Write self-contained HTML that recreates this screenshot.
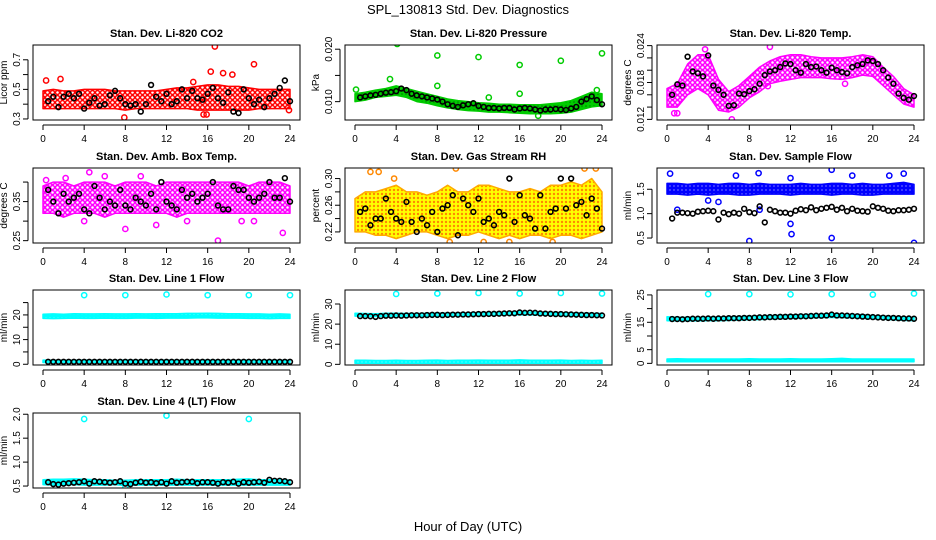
<!DOCTYPE html>
<html><head><meta charset="utf-8"><style>
html,body{margin:0;padding:0;background:#fff;}
svg{display:block;font-family:"Liberation Sans",Arial,sans-serif;}
</style></head><body>
<svg id="c" width="936" height="540" viewBox="0 0 936 540">
<defs>
<pattern id="p-red" width="5" height="5" patternUnits="userSpaceOnUse"><rect width="5" height="5" fill="#fff"/><circle cx="2.5" cy="2.5" r="2" fill="none" stroke="#f00" stroke-width="1.4"/></pattern>
<pattern id="p-green" width="4" height="4" patternUnits="userSpaceOnUse"><rect width="4" height="4" fill="#0c0"/><circle cx="2" cy="2" r="0.8" fill="#070"/></pattern>
<pattern id="p-mag" width="5" height="5" patternUnits="userSpaceOnUse"><rect width="5" height="5" fill="#fff"/><circle cx="2.5" cy="2.5" r="2" fill="none" stroke="#f0f" stroke-width="1.5"/></pattern>
<pattern id="p-rh" width="4" height="4" patternUnits="userSpaceOnUse"><rect width="4" height="4" fill="#ff0"/><circle cx="2" cy="2" r="1.2" fill="#f80"/></pattern>
<pattern id="p-blue" width="4" height="4" patternUnits="userSpaceOnUse"><rect width="4" height="4" fill="#00f"/><circle cx="2" cy="2" r="0.9" fill="#66f"/></pattern>
<pattern id="p-cyan" width="4" height="4" patternUnits="userSpaceOnUse"><rect width="4" height="4" fill="#0ff"/><circle cx="2" cy="2" r="0.8" fill="#6ff"/></pattern>
</defs>
<text x="468" y="14" text-anchor="middle" font-size="13">SPL_130813  Std. Dev. Diagnostics</text>
<text x="468" y="531" text-anchor="middle" font-size="13">Hour of Day (UTC)</text>
</svg>
<script>
const HRS=[0,1,2,3,4,5,6,7,8,9,10,11,12,13,14,15,16,17,18,19,20,21,22,23,24];
const XS=[0.5,1,1.5,2,2.5,3,3.5,4,4.5,5,5.5,6,6.5,7,7.5,8,8.5,9,9.5,10,10.5,11,11.5,12,12.5,13,13.5,14,14.5,15,15.5,16,16.5,17,17.5,18,18.5,19,19.5,20,20.5,21,21.5,22,22.5,23,23.5,24];
const XTICKS=[0,4,8,12,16,20,24];

// CO2
const co2Lo=[0.37,0.37,0.37,0.37,0.37,0.37,0.37,0.37,0.36,0.37,0.37,0.37,0.37,0.37,0.37,0.36,0.36,0.36,0.36,0.36,0.36,0.37,0.37,0.37,0.37];
const co2Hi=[0.49,0.50,0.49,0.49,0.50,0.50,0.50,0.49,0.49,0.49,0.49,0.49,0.50,0.51,0.51,0.52,0.53,0.53,0.52,0.52,0.51,0.50,0.50,0.50,0.50];
const co2Black=[0.42,0.45,0.38,0.45,0.47,0.44,0.47,0.37,0.41,0.44,0.39,0.40,0.46,0.49,0.44,0.40,0.39,0.40,0.35,0.40,0.53,0.45,0.42,0.47,0.40,0.42,0.50,0.44,0.49,0.44,0.43,0.47,0.51,0.44,0.41,0.48,0.35,0.34,0.50,0.44,0.40,0.43,0.38,0.44,0.47,0.51,0.56,0.42];
const co2OutX=[0.3,1.7,16.7,20.5,16.3,17.5,7.9,15.6,15.9,18.4,14.6,23.9];
const co2OutY=[0.56,0.57,0.79,0.67,0.62,0.61,0.31,0.33,0.33,0.60,0.55,0.36];
// Pressure
const prLo=[0.0100,0.0103,0.0108,0.0110,0.0112,0.0108,0.0100,0.0097,0.0092,0.0088,0.0085,0.0083,0.0082,0.0080,0.0080,0.0079,0.0078,0.0077,0.0077,0.0077,0.0078,0.0080,0.0085,0.0090,0.0092];
const prHi=[0.0115,0.0118,0.0122,0.0125,0.0130,0.0125,0.0120,0.0115,0.0110,0.0105,0.0102,0.0100,0.0098,0.0097,0.0095,0.0095,0.0094,0.0094,0.0094,0.0096,0.0098,0.0102,0.0110,0.0118,0.0115];
const prBlack=[0.0108,0.0110,0.0112,0.0113,0.0115,0.0117,0.0118,0.0120,0.0125,0.0122,0.0115,0.0112,0.0110,0.0108,0.0106,0.0104,0.0100,0.0095,0.0092,0.0090,0.0093,0.0095,0.0097,0.0092,0.0090,0.0088,0.0088,0.0087,0.0088,0.0088,0.0085,0.0087,0.0088,0.0087,0.0085,0.0083,0.0085,0.0085,0.0086,0.0085,0.0084,0.0087,0.0090,0.0100,0.0105,0.0110,0.0103,0.0095];
const prOutX=[0.1,3.4,4.1,8.0,8.0,12.0,13.0,16.0,16.0,20.0,24.0,23.5,17.8];
const prOutY=[0.0123,0.0143,0.0210,0.0188,0.0130,0.0185,0.0108,0.0170,0.0115,0.0178,0.0192,0.0122,0.0073];
// Li-820 Temp
const ltLo=[0.0140,0.0140,0.0160,0.0170,0.0160,0.0135,0.0132,0.0140,0.0155,0.0165,0.0178,0.0182,0.0185,0.0188,0.0188,0.0188,0.0186,0.0185,0.0188,0.0192,0.0190,0.0175,0.0160,0.0145,0.0140];
const ltHi=[0.0170,0.0178,0.0210,0.0225,0.0225,0.0185,0.0165,0.0175,0.0190,0.0205,0.0215,0.0222,0.0225,0.0225,0.0222,0.0220,0.0220,0.0220,0.0222,0.0225,0.0222,0.0205,0.0190,0.0170,0.0160];
const ltBlack=[0.0160,0.0177,0.0175,0.0222,0.0198,0.0195,0.0190,0.0224,0.0175,0.0168,0.0160,0.0142,0.0143,0.0162,0.0161,0.0166,0.0169,0.0178,0.0192,0.0198,0.0200,0.0205,0.0211,0.0210,0.0200,0.0196,0.0210,0.0205,0.0206,0.0200,0.0196,0.0204,0.0200,0.0197,0.0195,0.0205,0.0208,0.0210,0.0216,0.0215,0.0210,0.0200,0.0188,0.0178,0.0162,0.0155,0.0152,0.0158];
const ltOutX=[0.7,1.0,6.3,9.8,10.0,3.7,17.3];
const ltOutY=[0.0130,0.0130,0.0120,0.0174,0.0238,0.0234,0.0178];
// Amb box temp
const abLo=[0.32,0.32,0.31,0.32,0.32,0.32,0.31,0.32,0.32,0.32,0.32,0.32,0.32,0.31,0.32,0.32,0.32,0.32,0.32,0.32,0.32,0.32,0.32,0.32,0.32];
const abHi=[0.39,0.40,0.40,0.39,0.40,0.40,0.40,0.39,0.40,0.40,0.40,0.39,0.40,0.40,0.40,0.40,0.40,0.40,0.40,0.40,0.39,0.40,0.40,0.40,0.39];
const abBlack=[0.38,0.35,0.32,0.37,0.35,0.36,0.37,0.33,0.32,0.39,0.36,0.33,0.35,0.34,0.38,0.34,0.33,0.36,0.35,0.34,0.37,0.33,0.40,0.35,0.34,0.33,0.38,0.36,0.37,0.35,0.36,0.37,0.40,0.34,0.33,0.33,0.39,0.38,0.38,0.36,0.35,0.36,0.37,0.40,0.36,0.36,0.41,0.35];
const abOutX=[4.5,17.0,8.0,23.3,2.2,9.5,0.3,14.0,19.3,4.0,6.0,11.0,20.5];
const abOutY=[0.425,0.25,0.28,0.27,0.41,0.415,0.405,0.30,0.30,0.30,0.415,0.29,0.30];
// Gas stream RH
const rhLo=[0.22,0.22,0.215,0.215,0.21,0.215,0.22,0.22,0.215,0.21,0.215,0.215,0.22,0.215,0.21,0.215,0.21,0.215,0.215,0.21,0.215,0.215,0.21,0.215,0.22];
const rhHi=[0.27,0.28,0.28,0.285,0.29,0.28,0.28,0.275,0.28,0.29,0.28,0.28,0.29,0.29,0.285,0.28,0.28,0.285,0.28,0.29,0.29,0.295,0.29,0.30,0.28];
const rhBlack=[0.25,0.255,0.23,0.24,0.24,0.27,0.25,0.24,0.235,0.265,0.235,0.22,0.24,0.23,0.25,0.22,0.255,0.26,0.275,0.215,0.27,0.26,0.25,0.27,0.235,0.24,0.23,0.25,0.245,0.30,0.235,0.275,0.245,0.24,0.225,0.275,0.225,0.25,0.255,0.30,0.255,0.30,0.26,0.265,0.245,0.27,0.255,0.225];
const rhOutX=[1.5,3.8,9.8,12.5,19.2,22.3,23.4,9.2,2.3,15.0];
const rhOutY=[0.31,0.30,0.315,0.205,0.205,0.315,0.315,0.205,0.31,0.205];
// Sample flow
const sfLo=[1.40,1.40,1.38,1.40,1.38,1.40,1.40,1.38,1.38,1.40,1.40,1.40,1.38,1.40,1.40,1.40,1.38,1.40,1.40,1.38,1.38,1.40,1.40,1.40,1.40];
const sfHi=[1.62,1.62,1.60,1.62,1.62,1.60,1.62,1.62,1.60,1.62,1.60,1.60,1.60,1.62,1.60,1.60,1.62,1.62,1.60,1.62,1.60,1.60,1.62,1.64,1.60];
const sfBlack=[0.90,1.02,1.02,1.01,1.00,1.04,1.05,1.06,1.05,0.88,1.02,0.99,1.02,1.00,1.10,1.03,1.01,1.15,0.82,1.08,1.05,1.02,1.02,1.00,1.06,1.09,1.07,1.13,1.07,1.10,1.12,1.14,1.08,1.12,1.05,1.10,1.06,1.05,1.04,1.15,1.12,1.10,1.06,1.05,1.07,1.07,1.08,1.10];
const sfOutX=[0.3,6.7,8.9,12.0,16.0,18.0,21.6,23.0,8.0,12.0,12.1,16.0,24.0,1.0,9.0,4.0,5.0];
const sfOutY=[1.82,1.78,1.83,1.73,1.90,1.78,1.78,1.82,0.44,0.79,0.58,0.50,0.40,1.08,1.08,1.27,1.24];
// Line 1
const l1HiLo=[18.6,18.5,18.6,18.7,18.6,18.6,18.7,18.6,18.6,18.7,18.7,18.6,18.7,18.7,18.7,18.8,18.8,18.7,18.7,18.7,18.6,18.6,18.5,18.6,18.6];
const l1HiHi=[20.3,20.4,20.3,20.5,20.4,20.4,20.5,20.4,20.4,20.5,20.4,20.5,20.5,20.5,20.6,20.6,20.7,20.6,20.5,20.5,20.4,20.4,20.3,20.4,20.3];
const l1LowLo=[0.7,0.7,0.7,0.7,0.7,0.7,0.7,0.7,0.7,0.7,0.7,0.7,0.7,0.7,0.7,0.7,0.7,0.7,0.7,0.7,0.7,0.7,0.7,0.7,0.7];
const l1LowHi=[1.7,1.6,1.6,1.6,1.7,1.6,1.6,1.6,1.7,1.6,1.6,1.6,1.7,1.6,1.6,1.6,1.7,1.6,1.6,1.6,1.7,1.6,1.6,1.6,1.6];
const l1Black=[1.0,1.0,1.0,1.0,1.0,1.0,1.0,1.0,1.0,1.0,1.0,1.0,1.0,1.0,1.0,1.0,1.0,1.0,1.0,1.0,1.0,1.0,1.0,1.0,1.0,1.0,1.0,1.0,1.0,1.0,1.0,1.0,1.0,1.0,1.0,1.0,1.0,1.0,1.0,1.0,1.0,1.0,1.0,1.0,1.0,1.0,1.0,1.0];
const l1OutX=[4,8,12,16,20,24];
const l1OutY=[28.0,28.0,28.3,28.0,28.0,28.0];
// Line 2
const l2HiLo=[24.0,23.8,23.8,23.9,24.0,24.0,24.0,24.0,24.1,24.1,24.2,24.2,24.3,24.4,24.5,24.6,24.7,24.6,24.5,24.4,24.3,24.2,24.1,24.0,24.0];
const l2HiHi=[25.4,25.3,25.2,25.4,25.4,25.3,25.3,25.4,25.5,25.5,25.5,25.6,25.7,25.8,25.9,26.0,26.2,26.0,25.9,25.8,25.7,25.6,25.5,25.4,25.3];
const l2LowLo=[0.5,0.5,0.5,0.5,0.5,0.5,0.5,0.5,0.5,0.5,0.5,0.5,0.5,0.5,0.5,0.5,0.5,0.5,0.5,0.5,0.5,0.5,0.5,0.5,0.5];
const l2LowHi=[2.0,2.0,1.9,1.9,2.0,1.9,1.9,2.0,2.1,1.9,2.0,2.0,2.1,2.0,2.0,2.0,2.2,2.0,2.0,2.0,2.1,1.9,2.0,1.9,2.0];
const l2Black=[24.0,24.0,23.9,23.6,24.0,24.2,24.2,24.3,24.2,24.3,24.4,24.4,24.4,24.5,24.6,24.6,24.5,24.6,24.7,24.7,24.8,24.8,24.9,25.0,25.0,25.1,25.1,25.2,25.3,25.4,25.4,25.8,25.6,25.7,25.6,25.3,25.2,25.1,25.0,25.0,24.9,24.8,24.7,24.6,24.5,24.5,24.4,24.3];
const l2OutX=[4,8,12,16,20,24];
const l2OutY=[35.0,35.2,35.5,35.2,35.5,35.2];
// Line 3
const l3HiLo=[15.6,15.5,15.5,15.5,15.6,15.6,15.7,15.8,15.9,16.0,16.2,16.3,16.4,16.5,16.6,16.7,16.8,16.7,16.6,16.5,16.3,16.1,15.9,15.7,15.6];
const l3HiHi=[17.0,16.8,16.8,16.8,16.9,16.9,17.0,17.1,17.2,17.3,17.5,17.6,17.7,17.8,17.9,18.0,18.2,18.0,17.9,17.8,17.5,17.3,17.1,16.9,16.8];
const l3LowLo=[0.6,0.6,0.6,0.6,0.6,0.6,0.6,0.6,0.6,0.6,0.6,0.6,0.6,0.6,0.6,0.6,0.6,0.6,0.6,0.6,0.6,0.6,0.6,0.6,0.6];
const l3LowHi=[1.6,1.7,1.6,1.6,1.6,1.6,1.6,1.6,1.7,1.6,1.6,1.6,1.7,1.6,1.6,1.6,1.7,1.8,1.6,1.6,1.6,1.6,1.6,1.6,1.6];
const l3Black=[16.2,16.2,16.1,16.2,16.3,16.3,16.3,16.4,16.3,16.4,16.4,16.5,16.5,16.5,16.6,16.6,16.7,16.8,16.8,16.9,16.9,17.0,17.0,17.1,17.1,17.2,17.2,17.3,17.4,17.4,17.5,17.8,17.5,17.5,17.4,17.3,17.2,17.1,17.0,16.9,16.8,16.7,16.6,16.6,16.5,16.4,16.4,16.3];
const l3OutX=[4,8,12,16,20,24];
const l3OutY=[25.3,25.3,25.2,25.3,25.1,25.5];
// Line 4
const l4Lo=[0.53,0.52,0.52,0.53,0.52,0.52,0.52,0.53,0.51,0.52,0.52,0.52,0.52,0.52,0.52,0.52,0.52,0.52,0.52,0.52,0.52,0.52,0.52,0.52,0.52];
const l4Hi=[0.63,0.64,0.64,0.65,0.64,0.63,0.63,0.62,0.62,0.63,0.63,0.63,0.63,0.64,0.63,0.63,0.63,0.63,0.63,0.64,0.65,0.63,0.63,0.64,0.62];
const l4Black=[0.58,0.54,0.53,0.55,0.56,0.57,0.58,0.60,0.55,0.60,0.59,0.58,0.57,0.58,0.60,0.55,0.54,0.57,0.59,0.57,0.58,0.56,0.58,0.55,0.60,0.57,0.58,0.59,0.59,0.56,0.58,0.58,0.57,0.55,0.58,0.57,0.59,0.55,0.58,0.57,0.58,0.59,0.57,0.63,0.61,0.61,0.60,0.58];
const l4OutX=[4,12,20,8];
const l4OutY=[1.90,1.97,1.90,0.47];

const svg=document.getElementById('c');
const NS='http://www.w3.org/2000/svg';
function mk(tag,attrs,parent,txt){const e=document.createElementNS(NS,tag);for(const k in attrs)e.setAttribute(k,attrs[k]);if(txt!==undefined)e.textContent=txt;(parent||svg).appendChild(e);return e;}
const COLS=[33,345,657], ROWS=[45,168,290,413], W=267, H=75;

function panel(o){
  const L=COLS[o.col], T=ROWS[o.row], B=T+H;
  const g=mk('g',{});
  
  
  const xs=h=>L+10+h*(W-20)/24;
  const ys=v=>B-(v-o.v0)/(o.v1-o.v0)*H;
  const clip='clip-'+o.name;
  const cp=mk('clipPath',{id:clip},g); mk('rect',{x:L,y:T,width:W,height:H},cp);
  const plot=mk('g',{'clip-path':'url(#'+clip+')'},g);
  (o.bands||[]).forEach((b,i)=>{
    let d='';
    HRS.forEach((h,j)=>{d+=(j?'L':'M')+xs(h).toFixed(1)+','+ys(b.hi[j]).toFixed(1);});
    for(let j=HRS.length-1;j>=0;j--) d+='L'+xs(HRS[j]).toFixed(1)+','+ys(b.lo[j]).toFixed(1);
    d+='Z';
    const p=mk('path',{d:d,fill:'url(#'+b.pat+')',stroke:b.col,'stroke-width':1.5,'stroke-linejoin':'round'},plot);
    
    
  });
  (o.outX||[]).forEach((x,i)=>{
    const c=mk('circle',{cx:xs(x),cy:ys(o.outY[i]),r:2.6,fill:'none',stroke:o.mc,'stroke-width':1.5},plot);
    
    
  });
  if(o.black) o.black.forEach((v,i)=>{
    const c=mk('circle',{cx:xs(XS[i]),cy:ys(v),r:2.4,fill:'none',stroke:'#000','stroke-width':1.6},plot);
    
    
  });
  const box=mk('rect',{x:L,y:T,width:W,height:H,fill:'none',stroke:'#000','stroke-width':1},g);
  
  
  const t=mk('text',{x:L+W/2,y:T-8,'text-anchor':'middle','font-size':11,'font-weight':'bold'},g,o.title);
  
  
  const xa=mk('g',{},g);
  
  
  mk('line',{x1:xs(0),x2:xs(24),y1:B+5,y2:B+5,stroke:'#000'},xa);
  XTICKS.forEach(h=>{mk('line',{x1:xs(h),x2:xs(h),y1:B+5,y2:B+10,stroke:'#000'},xa);
    mk('text',{x:xs(h),y:B+22,'text-anchor':'middle','font-size':10},xa,String(h));});
  const ya=mk('g',{},g);
  
  
  mk('line',{x1:L-5,x2:L-5,y1:ys(o.ticks[0]),y2:ys(o.ticks[o.ticks.length-1]),stroke:'#000'},ya);
  o.ticks.forEach(v=>mk('line',{x1:L-10,x2:L-5,y1:ys(v),y2:ys(v),stroke:'#000'},ya));
  o.labels.forEach(v=>{const y=ys(v);mk('text',{x:L-13,y:y,'text-anchor':'middle','font-size':10,transform:'rotate(-90 '+(L-13)+' '+y+')'},ya,v.toFixed(o.dec));});
  const yl=mk('text',{x:L-26,y:T+H/2,'text-anchor':'middle','font-size':10,transform:'rotate(-90 '+(L-26)+' '+(T+H/2)+')'},g,o.ylab);
  
  
}

panel({name:'co2',col:0,row:0,title:'Stan. Dev. Li-820 CO2',ylab:'Licor ppm',v0:0.293,v1:0.80,ticks:[0.3,0.4,0.5,0.6,0.7],labels:[0.3,0.5,0.7],dec:1,mc:'#f00',
  bands:[{lo:co2Lo,hi:co2Hi,pat:'p-red',col:'#f00'}],outX:co2OutX,outY:co2OutY,black:co2Black});
panel({name:'pressure',col:1,row:0,title:'Stan. Dev. Li-820 Pressure',ylab:'kPa',v0:0.0065,v1:0.0208,ticks:[0.010,0.015,0.020],labels:[0.010,0.020],dec:3,mc:'#0c0',
  bands:[{lo:prLo,hi:prHi,pat:'p-green',col:'#0c0'}],outX:prOutX,outY:prOutY,black:prBlack});
panel({name:'li820-temp',col:2,row:0,title:'Stan. Dev. Li-820 Temp.',ylab:'degrees C',v0:0.0119,v1:0.0241,ticks:[0.012,0.014,0.016,0.018,0.020,0.022,0.024],labels:[0.012,0.018,0.024],dec:3,mc:'#f0f',
  bands:[{lo:ltLo,hi:ltHi,pat:'p-mag',col:'#f0f'}],outX:ltOutX,outY:ltOutY,black:ltBlack});
panel({name:'amb-box-temp',col:0,row:1,title:'Stan. Dev. Amb. Box Temp.',ylab:'degrees C',v0:0.244,v1:0.436,ticks:[0.25,0.30,0.35,0.40],labels:[0.25,0.35],dec:2,mc:'#f0f',
  bands:[{lo:abLo,hi:abHi,pat:'p-mag',col:'#f0f'}],outX:abOutX,outY:abOutY,black:abBlack});
panel({name:'gas-rh',col:1,row:1,title:'Stan. Dev. Gas Stream RH',ylab:'percent',v0:0.2034,v1:0.3158,ticks:[0.22,0.24,0.26,0.28,0.30],labels:[0.22,0.26,0.30],dec:2,mc:'#f80',
  bands:[{lo:rhLo,hi:rhHi,pat:'p-rh',col:'#fa0'}],outX:rhOutX,outY:rhOutY,black:rhBlack});
panel({name:'sample-flow',col:2,row:1,title:'Stan. Dev. Sample Flow',ylab:'ml/min',v0:0.398,v1:1.936,ticks:[0.5,1.0,1.5],labels:[0.5,1.0,1.5],dec:1,mc:'#00f',
  bands:[{lo:sfLo,hi:sfHi,pat:'p-blue',col:'#00f'}],outX:sfOutX,outY:sfOutY,black:sfBlack});
panel({name:'line1-flow',col:0,row:2,title:'Stan. Dev. Line 1 Flow',ylab:'ml/min',v0:-0.3,v1:30.1,ticks:[0,5,10,15,20,25],labels:[0,10,20],dec:0,mc:'#0ff',
  bands:[{lo:l1HiLo,hi:l1HiHi,pat:'p-cyan',col:'#0ff'},{lo:l1LowLo,hi:l1LowHi,pat:'p-cyan',col:'#0ff'}],outX:l1OutX,outY:l1OutY,black:l1Black});
panel({name:'line2-flow',col:1,row:2,title:'Stan. Dev. Line 2 Flow',ylab:'ml/min',v0:-0.33,v1:36.97,ticks:[0,10,20,30],labels:[0,10,20,30],dec:0,mc:'#0ff',
  bands:[{lo:l2HiLo,hi:l2HiHi,pat:'p-cyan',col:'#0ff'},{lo:l2LowLo,hi:l2LowHi,pat:'p-cyan',col:'#0ff'}],outX:l2OutX,outY:l2OutY,black:l2Black});
panel({name:'line3-flow',col:2,row:2,title:'Stan. Dev. Line 3 Flow',ylab:'ml/min',v0:-0.6,v1:26.8,ticks:[0,5,10,15,20,25],labels:[0,5,15,25],dec:0,mc:'#0ff',
  bands:[{lo:l3HiLo,hi:l3HiHi,pat:'p-cyan',col:'#0ff'},{lo:l3LowLo,hi:l3LowHi,pat:'p-cyan',col:'#0ff'}],outX:l3OutX,outY:l3OutY,black:l3Black});
panel({name:'line4-flow',col:0,row:3,title:'Stan. Dev. Line 4 (LT) Flow',ylab:'ml/min',v0:0.459,v1:2.026,ticks:[0.5,1.0,1.5,2.0],labels:[0.5,1.0,1.5,2.0],dec:1,mc:'#0ff',
  bands:[{lo:l4Lo,hi:l4Hi,pat:'p-cyan',col:'#0ff'}],outX:l4OutX,outY:l4OutY,black:l4Black});
</script>
</body></html>
